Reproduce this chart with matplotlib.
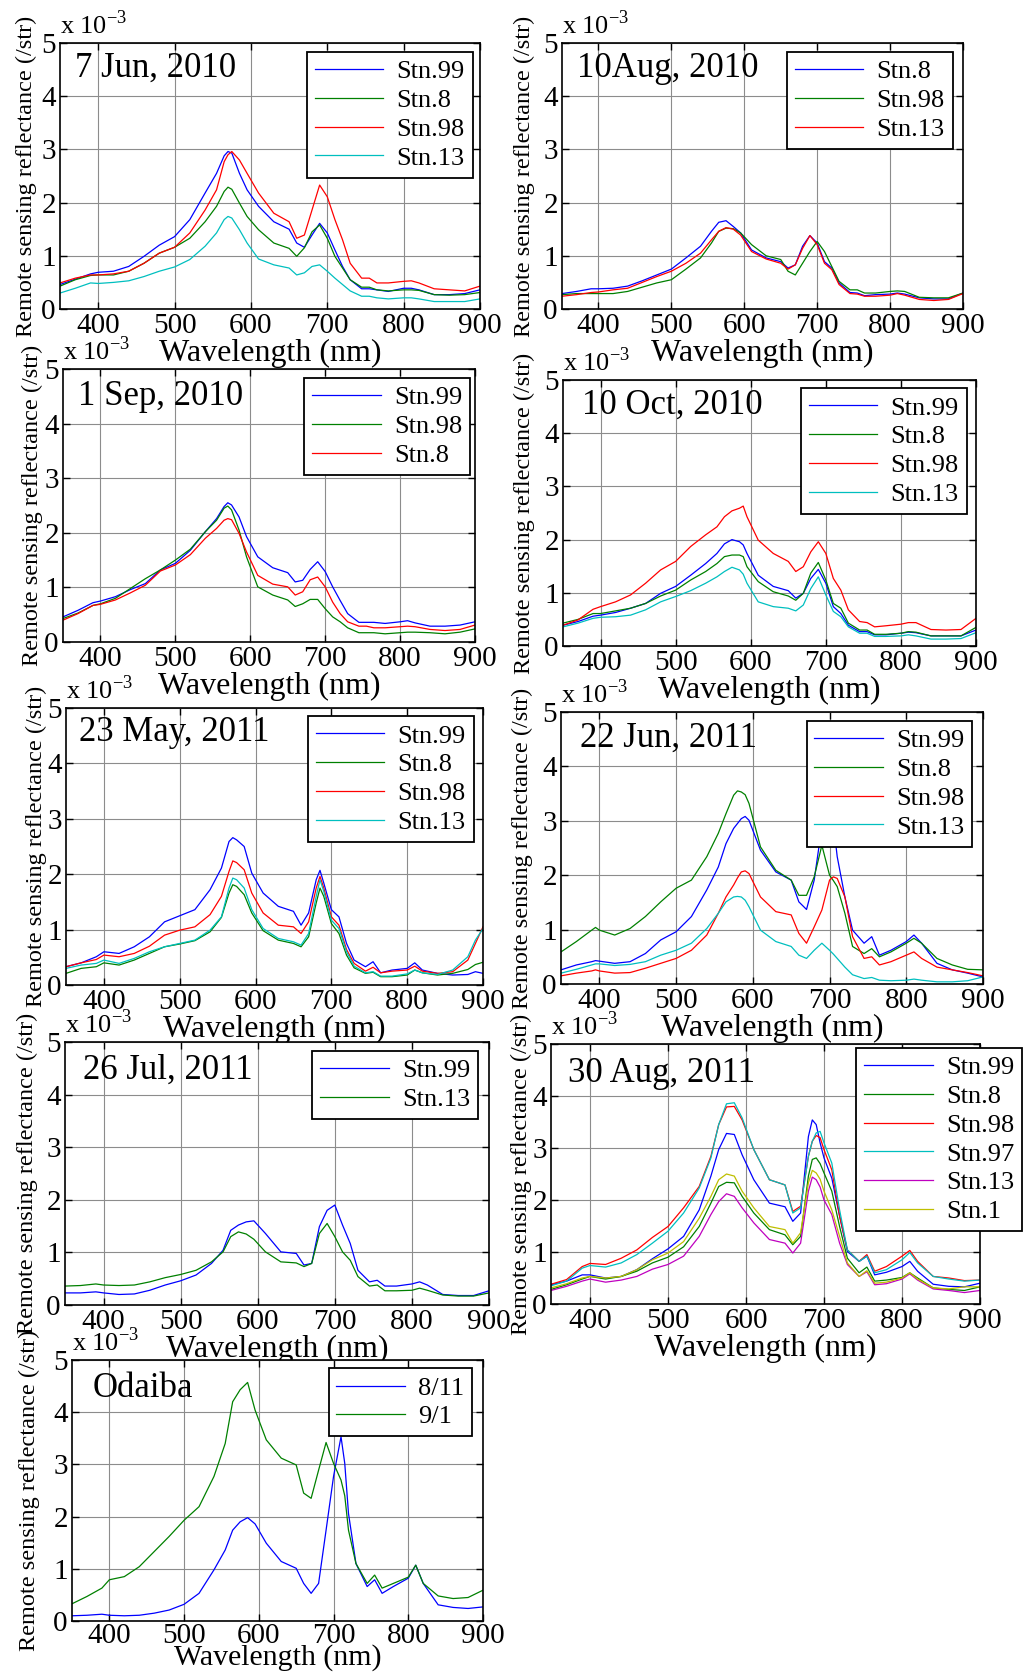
import matplotlib
matplotlib.use('Agg')
import matplotlib.pyplot as plt

plt.rcParams['font.family'] = ['Liberation Serif', 'DejaVu Serif']
plt.rcParams['mathtext.fontset'] = 'custom'
plt.rcParams['mathtext.rm'] = 'Liberation Serif'

# ---- data (reflectance in units of 1e-3 /str) ----
BASE = [350, 370, 390, 400, 420, 440, 460, 480, 500, 520, 540, 555, 565, 575, 585, 595,
        610, 630, 650, 660, 670, 680, 690, 700, 710, 720, 730, 745, 755, 765, 780, 800,
        810, 820, 840, 860, 880, 900]

# 7 Jun, 2010
jun10_wl = [350, 370, 390, 400, 420, 440, 460, 480, 500, 520, 540, 555, 565, 570, 575, 585, 595,
            610, 630, 650, 660, 670, 680, 690, 700, 710, 720, 730, 745, 755, 765, 780, 800,
            810, 820, 840, 860, 880, 900]
jun10_stn99 = [.46, .56, .66, .69, .71, .80, .99, 1.20, 1.36, 1.68, 2.18, 2.55, 2.88, 2.96, 2.93, 2.55, 2.24,
               1.93, 1.64, 1.50, 1.24, 1.16, 1.39, 1.61, 1.43, 1.11, .80, .55, .38, .38, .36, .33, .39,
               .39, .36, .27, .27, .29, .36]
jun10_stn8 = [.43, .55, .63, .64, .64, .71, .86, 1.05, 1.16, 1.33, 1.64, 1.93, 2.21, 2.29, 2.25, 1.99, 1.74,
              1.49, 1.24, 1.14, .99, 1.15, 1.45, 1.58, 1.33, .99, .77, .55, .41, .41, .36, .34, .36,
              .36, .35, .27, .26, .27, .31]
jun10_stn98 = [.49, .58, .64, .64, .66, .71, .86, 1.05, 1.16, 1.43, 1.86, 2.24, 2.77, 2.90, 2.96, 2.80, 2.55,
               2.18, 1.80, 1.64, 1.33, 1.39, 1.86, 2.33, 2.11, 1.68, 1.30, .86, .58, .58, .49, .49, .52,
               .53, .49, .38, .36, .34, .43]
jun10_stn13 = [.30, .39, .49, .48, .50, .53, .61, .71, .79, .93, 1.18, 1.43, 1.68, 1.74, 1.71, 1.49, 1.24,
               .94, .83, .77, .64, .68, .80, .83, .71, .58, .46, .34, .24, .24, .21, .19, .21,
               .21, .19, .14, .14, .14, .19]

# 10 Aug, 2010
aug10_stn8 = [.29, .33, .38, .38, .39, .43, .53, .64, .75, .96, 1.18, 1.46, 1.63, 1.66, 1.55, 1.43,
              1.11, .96, .89, .77, .83, 1.18, 1.38, 1.24, .89, .77, .49, .31, .30, .25, .27, .28,
              .30, .28, .21, .19, .19, .30]
aug10_stn98 = [.27, .29, .29, .29, .29, .33, .41, .49, .55, .75, .96, 1.24, 1.46, 1.52, 1.51, 1.43,
               1.21, 1.00, .93, .71, .64, .86, 1.08, 1.27, 1.08, .80, .52, .36, .36, .30, .30, .33,
               .34, .33, .22, .21, .21, .30]
aug10_stn13 = [.24, .27, .31, .32, .36, .39, .50, .61, .71, .86, 1.05, 1.30, 1.46, 1.53, 1.50, 1.39,
               1.08, .94, .86, .75, .83, 1.14, 1.38, 1.21, .86, .74, .46, .29, .28, .24, .24, .26,
               .29, .26, .18, .16, .18, .29]

# 1 Sep, 2010
sep10_wl = jun10_wl
sep10_stn99 = [.46, .58, .72, .75, .83, .96, 1.07, 1.32, 1.44, 1.68, 2.02, 2.26, 2.48, 2.55, 2.51, 2.29, 1.93,
               1.56, 1.36, 1.27, 1.10, 1.13, 1.33, 1.47, 1.29, 1.01, .76, .52, .36, .36, .36, .34, .37,
               .39, .35, .29, .29, .31, .37]
sep10_stn98 = [.43, .53, .67, .70, .80, .98, 1.16, 1.32, 1.50, 1.70, 2.02, 2.23, 2.45, 2.49, 2.42, 2.05, 1.56,
               1.01, .86, .77, .65, .70, .78, .78, .61, .46, .37, .26, .17, .17, .17, .15, .17,
               .18, .18, .17, .15, .18, .24]
sep10_stn8 = [.40, .52, .67, .69, .77, .90, 1.04, 1.30, 1.41, 1.60, 1.90, 2.08, 2.23, 2.26, 2.24, 1.99, 1.65,
              1.22, 1.06, 1.01, .86, .92, 1.14, 1.19, 1.01, .73, .52, .37, .29, .29, .26, .26, .28,
              .29, .28, .23, .21, .23, .31]

# 10 Oct, 2010
oct10_wl = [350, 370, 390, 400, 420, 440, 460, 480, 500, 520, 540, 555, 565, 575, 585, 590, 595,
            610, 630, 650, 660, 670, 680, 690, 700, 710, 720, 730, 745, 755, 765, 780, 800,
            810, 820, 840, 860, 880, 900]
oct10_stn99 = [.39, .46, .56, .58, .63, .71, .80, .99, 1.12, 1.33, 1.55, 1.74, 1.92, 2.00, 1.96, 1.90, 1.74,
               1.33, 1.12, 1.04, .90, .99, 1.27, 1.44, 1.18, .74, .61, .39, .27, .27, .21, .21, .24,
               .26, .25, .19, .19, .19, .30]
oct10_stn8 = [.43, .50, .61, .61, .66, .71, .80, .94, 1.05, 1.24, 1.40, 1.55, 1.68, 1.71, 1.71, 1.68, 1.49,
              1.21, 1.02, .94, .86, .99, 1.37, 1.57, 1.24, .80, .71, .43, .30, .30, .22, .22, .24,
              .27, .26, .19, .19, .19, .35]
oct10_stn98 = [.39, .49, .69, .74, .83, .96, 1.18, 1.43, 1.59, 1.87, 2.09, 2.24, 2.43, 2.54, 2.59, 2.63, 2.43,
               1.99, 1.74, 1.59, 1.40, 1.49, 1.77, 1.96, 1.74, 1.27, 1.05, .68, .46, .44, .36, .38, .41,
               .44, .44, .31, .30, .31, .52]
oct10_stn13 = [.36, .43, .52, .54, .55, .58, .68, .83, .93, 1.04, 1.18, 1.30, 1.40, 1.48, 1.43, 1.35, 1.18,
               .83, .74, .71, .66, .77, 1.08, 1.30, .96, .65, .55, .36, .24, .24, .18, .18, .19,
               .21, .19, .13, .13, .14, .25]

# 23 May, 2011
may11_wl = [350, 370, 390, 400, 420, 440, 460, 480, 500, 520, 540, 555, 565, 570, 575, 585, 595,
            610, 630, 650, 660, 670, 680, 685, 690, 700, 710, 720, 730, 745, 755, 765, 780, 800,
            810, 820, 840, 860, 880, 890, 900]
may11_stn99 = [.33, .40, .51, .60, .57, .69, .87, 1.14, 1.25, 1.36, 1.72, 2.11, 2.59, 2.66, 2.62, 2.50, 2.02,
               1.66, 1.42, 1.33, 1.08, 1.30, 1.90, 2.07, 1.84, 1.36, 1.23, .75, .45, .33, .42, .22, .27, .30,
               .40, .27, .21, .18, .19, .24, .21]
may11_stn8 = [.21, .30, .33, .40, .36, .45, .57, .69, .74, .80, .96, 1.22, 1.66, 1.81, 1.78, 1.63, 1.30,
              .98, .81, .75, .69, .87, 1.48, 1.75, 1.60, 1.11, .93, .54, .31, .21, .23, .15, .15, .18,
              .27, .22, .18, .21, .28, .37, .41]
may11_stn98 = [.33, .40, .46, .54, .51, .57, .70, .90, .99, 1.05, 1.27, 1.60, 2.05, 2.24, 2.21, 2.08, 1.66,
               1.30, 1.08, 1.05, .93, 1.14, 1.75, 1.96, 1.75, 1.23, 1.08, .64, .39, .25, .32, .22, .25, .27,
               .34, .25, .21, .24, .45, .75, 1.05]
may11_stn13 = [.30, .36, .39, .45, .39, .48, .60, .69, .75, .81, .99, 1.23, 1.75, 1.93, 1.90, 1.75, 1.36,
               1.02, .84, .78, .72, .93, 1.60, 1.90, 1.69, 1.17, 1.02, .60, .34, .22, .24, .16, .16, .20,
               .27, .22, .19, .27, .51, .81, 1.02]

# 22 Jun, 2011
jun11_wl = [350, 370, 390, 395, 400, 420, 440, 460, 480, 500, 520, 540, 555, 565, 575, 580, 585, 590, 595,
            610, 630, 650, 660, 670, 680, 690, 700, 705, 710, 720, 730, 745, 755, 765, 780, 800,
            810, 820, 840, 860, 880, 900]
jun11_stn99 = [.26, .35, .41, .43, .42, .38, .41, .56, .81, .96, 1.24, 1.73, 2.15, 2.58, 2.86, 2.95, 3.04, 3.08, 3.01,
               2.46, 2.06, 1.91, 1.51, 1.37, 1.91, 2.90, 3.30, 2.95, 2.34, 1.60, .99, .75, .87, .53, .62, .78,
               .90, .75, .38, .26, .20, .13]
jun11_stn8 = [.59, .78, .99, 1.04, .99, .90, 1.02, 1.24, 1.51, 1.76, 1.91, 2.34, 2.77, 3.13, 3.47, 3.55, 3.53, 3.48, 3.32,
              2.52, 2.09, 1.91, 1.63, 1.63, 1.97, 2.55, 2.00, 1.90, 1.79, 1.30, .69, .56, .65, .50, .59, .75,
              .84, .75, .47, .35, .27, .26]
jun11_stn98 = [.15, .20, .24, .26, .24, .20, .21, .29, .38, .47, .62, .90, 1.30, 1.60, 1.82, 1.95, 2.06, 2.08, 2.03,
               1.60, 1.33, 1.27, .93, .75, 1.05, 1.36, 1.91, 1.97, 1.94, 1.60, .87, .47, .50, .35, .41, .53,
               .59, .47, .31, .26, .21, .15]
jun11_stn13 = [.20, .27, .35, .37, .37, .34, .36, .41, .53, .62, .75, 1.02, 1.30, 1.51, 1.60, 1.61, 1.60, 1.54, 1.42,
               .99, .78, .69, .53, .47, .62, .75, .62, .55, .47, .31, .17, .10, .12, .07, .06, .07,
               .09, .07, .04, .04, .06, .13]

# 26 Jul, 2011
jul11_stn99 = [.23, .23, .25, .23, .20, .21, .28, .38, .46, .57, .79, 1.04, 1.42, 1.52, 1.58, 1.60,
               1.36, 1.01, .98, .76, .79, 1.49, 1.80, 1.90, 1.52, 1.17, .66, .44, .47, .36, .36, .40,
               .44, .38, .20, .18, .18, .27]
jul11_stn13 = [.36, .37, .40, .38, .37, .38, .44, .52, .58, .66, .82, 1.01, 1.30, 1.39, 1.35, 1.25,
               1.01, .82, .80, .73, .79, 1.36, 1.55, 1.30, 1.01, .85, .54, .36, .38, .27, .27, .28,
               .32, .28, .19, .17, .17, .23]

# 30 Aug, 2011
aug11_wl = [350, 370, 390, 400, 420, 440, 460, 480, 500, 520, 540, 555, 565, 575, 585, 595,
            610, 630, 650, 660, 670, 680, 685, 690, 695, 700, 710, 720, 730, 745, 755, 765, 780, 800,
            810, 820, 840, 860, 880, 900]
aug11_stn99 = [.37, .44, .56, .56, .50, .53, .66, .87, 1.06, 1.30, 1.81, 2.46, 2.97, 3.28, 3.26, 2.87,
               2.39, 1.94, 1.87, 1.59, 1.75, 3.22, 3.54, 3.45, 3.10, 2.81, 2.42, 1.69, 1.01, .82, .92, .56, .61, .72,
               .82, .63, .38, .34, .33, .40]
aug11_stn8 = [.28, .37, .48, .53, .48, .53, .63, .79, .90, 1.10, 1.49, 1.94, 2.26, 2.34, 2.33, 2.07,
              1.75, 1.43, 1.33, 1.14, 1.30, 2.46, 2.78, 2.81, 2.70, 2.52, 2.17, 1.49, .88, .60, .71, .44, .46, .51,
              .60, .50, .31, .28, .26, .33]
aug11_stn98 = [.38, .47, .72, .78, .76, .88, 1.04, 1.28, 1.49, 1.85, 2.26, 2.84, 3.45, 3.79, 3.80, 3.54,
               2.97, 2.39, 2.29, 1.78, 1.88, 2.84, 3.13, 3.24, 3.20, 2.97, 2.58, 1.69, 1.04, .82, .95, .63, .72, .92,
               1.03, .82, .53, .50, .45, .46]
aug11_stn97 = [.35, .44, .69, .74, .71, .79, .95, 1.17, 1.40, 1.75, 2.23, 2.81, 3.45, 3.85, 3.87, 3.58,
               2.97, 2.39, 2.29, 1.75, 1.85, 2.84, 3.13, 3.29, 3.32, 3.10, 2.71, 1.81, 1.04, .82, .92, .60, .66, .85,
               .99, .79, .53, .48, .44, .46]
aug11_stn13 = [.26, .34, .44, .48, .42, .46, .53, .67, .76, .92, 1.30, 1.72, 1.97, 2.12, 2.07, 1.85,
               1.56, 1.24, 1.17, .98, 1.17, 2.17, 2.44, 2.39, 2.25, 2.00, 1.72, 1.17, .76, .53, .62, .37, .39, .48,
               .58, .46, .29, .26, .22, .26]
aug11_stn1 = [.31, .39, .50, .53, .50, .53, .66, .85, .98, 1.20, 1.65, 2.07, 2.39, 2.50, 2.46, 2.17,
              1.85, 1.49, 1.43, 1.17, 1.37, 2.33, 2.57, 2.52, 2.40, 2.17, 1.81, 1.30, .79, .53, .64, .40, .42, .50,
              .60, .48, .31, .29, .33, .33]

# Odaiba
odaiba_wl = [350, 370, 390, 400, 420, 440, 460, 480, 500, 520, 540, 555, 565, 575, 585, 595,
             610, 630, 650, 660, 670, 680, 690, 700, 710, 715, 720, 730, 745, 755, 765, 780, 800,
             810, 820, 840, 860, 880, 900]
odaiba_0811 = [.10, .11, .13, .11, .10, .11, .15, .21, .32, .53, .98, 1.36, 1.74, 1.90, 1.98, 1.86,
               1.49, 1.14, 1.01, .72, .53, .72, 1.74, 2.77, 3.53, 3.02, 2.06, 1.10, .66, .79, .53, .66, .82,
               1.07, .72, .31, .26, .24, .27]
odaiba_0901 = [.33, .47, .63, .79, .85, 1.04, 1.33, 1.62, 1.93, 2.19, 2.77, 3.40, 4.20, 4.43, 4.57, 4.04,
               3.47, 3.12, 2.99, 2.45, 2.35, 2.89, 3.42, 3.02, 2.70, 2.40, 1.74, 1.10, .72, .88, .63, .72, .84,
               1.07, .72, .48, .43, .45, .59]

BLUE, GREEN, RED = '#0000ff', '#008000', '#ff0000'
CYAN, MAGENTA, YELLOW = '#00bfbf', '#bf00bf', '#bfbf00'

FIG_W, FIG_H = 1027, 1673
fig = plt.figure(figsize=(FIG_W / 100, FIG_H / 100), dpi=100)


def draw_panel(box, title, title_pos, wl, series, labels, colors, leg_anchor, ylab_off,
               xlab_pad=0, xlab_size=23, tick_pad=3):
    left, top, right, bottom = box
    w, h = right - left, bottom - top
    ax = fig.add_axes([left / FIG_W, 1 - bottom / FIG_H, w / FIG_W, h / FIG_H])
    for y, lab, c in zip(series, labels, colors):
        ax.plot(wl, y, color=c, lw=0.9, label=lab)
    ax.set_xlim(350, 900)
    ax.set_ylim(0, 5)
    ax.set_xticks([400, 500, 600, 700, 800, 900])
    ax.set_yticks([0, 1, 2, 3, 4, 5])
    ax.grid(True, color='#8c8c8c', lw=0.8)
    ax.set_axisbelow(True)
    ax.tick_params(direction='in', top=True, right=True, length=5, width=1,
                   labelsize=21, pad=3)
    ax.tick_params(axis='x', pad=tick_pad)
    for sp in ax.spines.values():
        sp.set_linewidth(1.2)
    ax.set_xlabel('Wavelength (nm)', fontsize=xlab_size, labelpad=xlab_pad)
    ax.set_ylabel('Remote sensing reflectance (/str)', fontsize=17.5)
    ax.yaxis.set_label_coords(-ylab_off / w, 0.5)
    ax.text(0.0, 1 + 9 / h, 'x 10$^{-3}$', transform=ax.transAxes,
            ha='left', va='baseline', fontsize=19)
    ax.text(title_pos[0], title_pos[1], title, transform=ax.transAxes,
            ha='left', va='center', fontsize=25)
    leg = ax.legend(loc='upper right', bbox_to_anchor=leg_anchor, borderaxespad=0,
                    fontsize=19, fancybox=False, edgecolor='black', framealpha=1,
                    handlelength=2.6, handletextpad=0.5, labelspacing=0.2, borderpad=0.3)
    leg.get_frame().set_linewidth(1.3)
    return ax


draw_panel((60, 43, 480, 309), '7 Jun, 2010', (0.036, 0.906), jun10_wl,
           [jun10_stn99, jun10_stn8, jun10_stn98, jun10_stn13],
           ['Stn.99', 'Stn.8', 'Stn.98', 'Stn.13'], [BLUE, GREEN, RED, CYAN],
           (0.983, 0.966), 23)
draw_panel((562, 43, 963, 309), '10Aug, 2010', (0.037, 0.906), BASE,
           [aug10_stn8, aug10_stn98, aug10_stn13],
           ['Stn.8', 'Stn.98', 'Stn.13'], [BLUE, GREEN, RED],
           (0.974, 0.966), 27)
draw_panel((63, 369, 475, 642), '1 Sep, 2010', (0.036, 0.90), sep10_wl,
           [sep10_stn99, sep10_stn98, sep10_stn8],
           ['Stn.99', 'Stn.98', 'Stn.8'], [BLUE, GREEN, RED],
           (0.988, 0.967), 20)
draw_panel((563, 380, 976, 646), '10 Oct, 2010', (0.046, 0.906), oct10_wl,
           [oct10_stn99, oct10_stn8, oct10_stn98, oct10_stn13],
           ['Stn.99', 'Stn.8', 'Stn.98', 'Stn.13'], [BLUE, GREEN, RED, CYAN],
           (0.977, 0.969), 28)
draw_panel((66, 708, 483, 985), '23 May, 2011', (0.030, 0.91), may11_wl,
           [may11_stn99, may11_stn8, may11_stn98, may11_stn13],
           ['Stn.99', 'Stn.8', 'Stn.98', 'Stn.13'], [BLUE, GREEN, RED, CYAN],
           (0.978, 0.970), 19)
draw_panel((561, 712, 983, 984), '22 Jun, 2011', (0.045, 0.902), jun11_wl,
           [jun11_stn99, jun11_stn8, jun11_stn98, jun11_stn13],
           ['Stn.99', 'Stn.8', 'Stn.98', 'Stn.13'], [BLUE, GREEN, RED, CYAN],
           (0.975, 0.967), 28)
draw_panel((65, 1042, 489, 1305), '26 Jul, 2011', (0.043, 0.893), BASE,
           [jul11_stn99, jul11_stn13],
           ['Stn.99', 'Stn.13'], [BLUE, GREEN],
           (0.974, 0.966), 27)
draw_panel((551, 1044, 980, 1304), '30 Aug, 2011', (0.040, 0.888), aug11_wl,
           [aug11_stn99, aug11_stn8, aug11_stn98, aug11_stn97, aug11_stn13, aug11_stn1],
           ['Stn.99', 'Stn.8', 'Stn.98', 'Stn.97', 'Stn.13', 'Stn.1'],
           [BLUE, GREEN, RED, CYAN, MAGENTA, YELLOW],
           (1.098, 0.985), 19)
draw_panel((72, 1360, 483, 1621), 'Odaiba', (0.049, 0.892), odaiba_wl,
           [odaiba_0811, odaiba_0901],
           ['8/11', '9/1'], [BLUE, GREEN],
           (0.974, 0.968), 32, xlab_pad=-3.5, xlab_size=21.5, tick_pad=1.5)

fig.savefig('out.png', dpi=100, facecolor='white')
